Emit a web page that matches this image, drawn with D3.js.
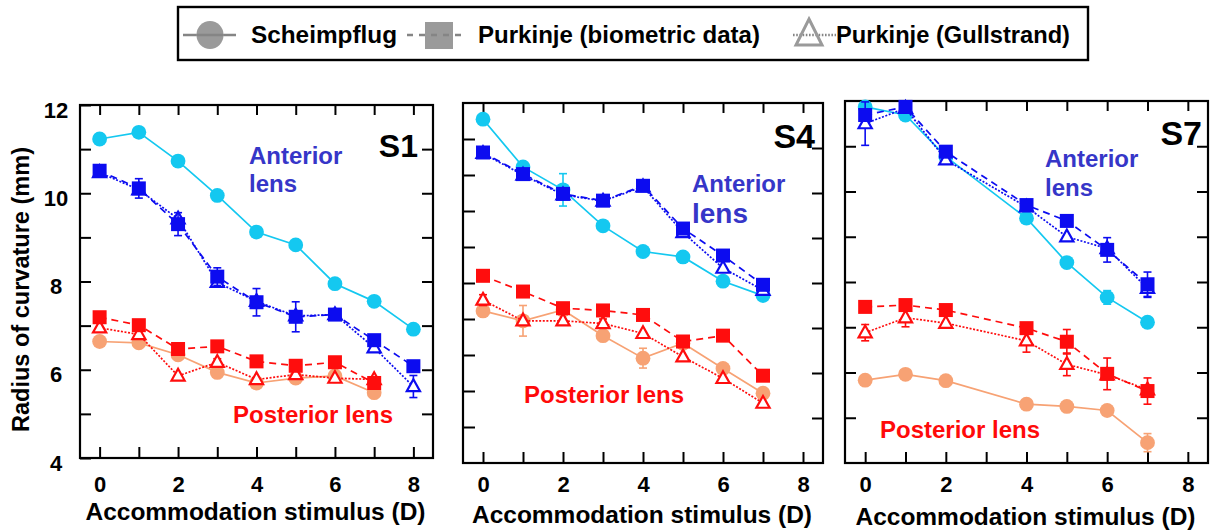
<!DOCTYPE html>
<html><head><meta charset="utf-8">
<script src="https://cdn.jsdelivr.net/npm/d3@7"></script>
<style>
html,body{margin:0;padding:0;background:#fff;}
svg{display:block;font-family:"Liberation Sans",Arial,Helvetica,sans-serif;font-weight:bold;}
</style></head><body>
<svg id="chart" width="1212" height="531"></svg>
<script>
// Accommodation stimulus levels (D) per subject
const stimS1 = [0, 1, 2, 3, 4, 5, 6, 7, 8];
const stimS4 = [0, 1, 2, 3, 4, 5, 6, 7];
const stimS7 = [0, 1, 2, 4, 5, 6, 7];

// Radius of curvature (mm), subject S1
const s1AntScheimpflug   = [11.23, 11.38, 10.73, 9.95, 9.12, 8.83, 7.95, 7.55, 6.92];
const s1AntPurkinje      = [10.51, 10.11, 9.30, 8.11, 7.53, 7.20, 7.25, 6.67, 6.08];
const s1AntPurkinjeErr   = [0, 0.22, 0.26, 0.20, 0.31, 0.34, 0, 0, 0];
const s1AntGullstrand    = [10.47, 10.08, 9.42, 7.98, 7.55, 7.22, 7.25, 6.50, 5.62];
const s1AntGullstrandErr = [0, 0, 0, 0, 0, 0, 0, 0, 0.25];
const s1PostScheimpflug  = [6.64, 6.61, 6.34, 5.94, 5.70, 5.81, 5.86, 5.48];
const s1PostPurkinje     = [7.19, 7.01, 6.47, 6.53, 6.19, 6.09, 6.17, 5.70];
const s1PostPurkinjeErr  = [0.10, 0, 0.08, 0.08, 0, 0.12, 0, 0];
const s1PostGullstrand   = [6.95, 6.80, 5.86, 6.17, 5.78, 5.89, 5.81, 5.78];
const s1PostGullstrandErr= [0, 0.10, 0, 0.08, 0, 0, 0, 0];

// Radius of curvature (mm), subject S4
const s4AntScheimpflug    = [11.64, 10.58, 10.07, 9.27, 8.70, 8.58, 8.04, 7.72];
const s4AntScheimpflugErr = [0, 0, 0.36, 0, 0, 0, 0, 0];
const s4AntPurkinje       = [10.90, 10.42, 9.98, 9.83, 10.16, 9.21, 8.61, 7.96];
const s4AntGullstrand     = [10.88, 10.40, 9.96, 9.82, 10.14, 9.12, 8.33, 7.84];
const s4PostScheimpflug   = [7.38, 7.16, 7.40, 6.83, 6.33, 6.66, 6.10, 5.55];
const s4PostScheimpflugErr= [0, 0.34, 0, 0, 0.22, 0, 0, 0];
const s4PostPurkinje      = [8.16, 7.81, 7.44, 7.39, 7.29, 6.70, 6.83, 5.94];
const s4PostPurkinjeErr   = [0.12, 0, 0, 0, 0, 0, 0, 0];
const s4PostGullstrand    = [7.62, 7.16, 7.16, 7.10, 6.88, 6.36, 5.88, 5.33];
const s4PostGullstrandErr = [0.12, 0, 0, 0.10, 0, 0, 0, 0];

// Radius of curvature (mm), subject S7
const s7AntScheimpflug    = [11.87, 11.69, 10.77, 9.41, 8.43, 7.66, 7.11];
const s7AntScheimpflugErr = [0, 0, 0, 0, 0, 0.15, 0];
const s7AntPurkinje       = [11.69, 11.87, 10.88, 9.70, 9.35, 8.71, 7.95];
const s7AntPurkinjeErr    = [0, 0, 0, 0, 0, 0.27, 0.27];
const s7AntGullstrand     = [11.50, 11.84, 10.70, 9.66, 9.00, 8.74, 7.86];
const s7AntGullstrandErr  = [0.48, 0, 0, 0, 0, 0, 0.2];
const s7PostScheimpflug   = [5.83, 5.96, 5.82, 5.30, 5.25, 5.16, 4.45];
const s7PostScheimpflugErr= [0, 0, 0, 0, 0, 0, 0.2];
const s7PostPurkinje      = [7.45, 7.49, 7.38, 6.98, 6.68, 5.97, 5.59];
const s7PostPurkinjeErr   = [0, 0, 0, 0, 0.27, 0.35, 0.29];
const s7PostGullstrand    = [6.88, 7.21, 7.09, 6.70, 6.18, 5.95, 5.62];
const s7PostGullstrandErr = [0.18, 0.2, 0, 0.25, 0.25, 0, 0];

// Axis ranges and labels
const xDomain = [-0.5, 8.5];
const xTicks = [0, 1, 2, 3, 4, 5, 6, 7, 8];
const xLabelTicks = [0, 2, 4, 6, 8];
const yDomain = [4, 12];
const yLabelTicks = [4, 6, 8, 10, 12];
const yMinorTicks = [5, 6, 7, 8, 9, 10, 11];
const legendLabels = ["Scheimpflug", "Purkinje (biometric data)", "Purkinje (Gullstrand)"];
const subjects = ["S1", "S4", "S7"];
const xTitle = "Accommodation stimulus (D)";
const yTitle = "Radius of curvature (mm)";

const colors = {
  antS: "#14c8f0", antP: "#0c0cf0", postS: "#f7a274", postP: "#ff0d0d",
  antText: "#3636c8", postText: "#ff0a0a", legend: "#9a9a9a", legendLine: "#858585"
};

const svg = d3.select("#chart");

function pts(stim, vals, errs) {
  return vals.map((v, i) => ({ x: stim[i], y: v, e: errs ? errs[i] : 0 }));
}

const triPath = "M0,-7.2L6.6,4.6L-6.6,4.6Z";

function drawSeries(g, x, y, data, kind, color) {
  const line = d3.line().x(d => x(d.x)).y(d => y(d.y));
  g.append("path").attr("d", line(data))
    .attr("fill", "none").attr("stroke", color).attr("stroke-width", 1.7)
    .attr("stroke-dasharray", kind === "sq" ? "7,5" : kind === "tri" ? "2,1.6" : null);
  const errs = data.filter(d => d.e > 0);
  const eg = g.append("g").attr("stroke", color).attr("stroke-width", 1.6);
  errs.forEach(d => {
    const cx = x(d.x), y1 = y(d.y - d.e), y2 = y(d.y + d.e);
    eg.append("line").attr("x1", cx).attr("x2", cx).attr("y1", y1).attr("y2", y2);
    eg.append("line").attr("x1", cx - 4).attr("x2", cx + 4).attr("y1", y1).attr("y2", y1);
    eg.append("line").attr("x1", cx - 4).attr("x2", cx + 4).attr("y1", y2).attr("y2", y2);
  });
  if (kind === "circ") {
    g.selectAll(null).data(data).enter().append("circle")
      .attr("cx", d => x(d.x)).attr("cy", d => y(d.y)).attr("r", 7.4).attr("fill", color);
  } else if (kind === "sq") {
    g.selectAll(null).data(data).enter().append("rect")
      .attr("x", d => x(d.x) - 7).attr("y", d => y(d.y) - 7)
      .attr("width", 14).attr("height", 14).attr("fill", color);
  } else {
    g.selectAll(null).data(data).enter().append("path")
      .attr("d", triPath).attr("transform", d => `translate(${x(d.x)},${y(d.y)})`)
      .attr("fill", "#fff").attr("stroke", color).attr("stroke-width", 2.2);
  }
}

const panels = [
  {
    name: subjects[0], frame: [80, 105, 433, 458], labels: true,
    anterior: [pts(stimS1, s1AntScheimpflug), pts(stimS1, s1AntPurkinje, s1AntPurkinjeErr), pts(stimS1, s1AntGullstrand, s1AntGullstrandErr)],
    posterior: [pts(stimS1, s1PostScheimpflug), pts(stimS1, s1PostPurkinje, s1PostPurkinjeErr), pts(stimS1, s1PostGullstrand, s1PostGullstrandErr)],
    tag: { x: 418, y: 157, size: 32 },
    ant: { x: 249, y1: 164, y2: 192, s1: 24, s2: 24 },
    post: { x: 233, y: 423 },
    xLabelPad: 18, xTitleY: 520, leftAlt: null
  },
  {
    name: subjects[1], frame: [463, 103, 823, 463], labels: false,
    anterior: [pts(stimS4, s4AntScheimpflug, s4AntScheimpflugErr), pts(stimS4, s4AntPurkinje), pts(stimS4, s4AntGullstrand)],
    posterior: [pts(stimS4, s4PostScheimpflug, s4PostScheimpflugErr), pts(stimS4, s4PostPurkinje, s4PostPurkinjeErr), pts(stimS4, s4PostGullstrand, s4PostGullstrandErr)],
    tag: { x: 815, y: 148, size: 34 },
    ant: { x: 692, y1: 192, y2: 223, s1: 24, s2: 28 },
    post: { x: 524, y: 403 },
    xLabelPad: 13, xTitleY: 523, leftAlt: [0, 10]
  },
  {
    name: subjects[2], frame: [845, 101, 1208, 463], labels: false,
    anterior: [pts(stimS7, s7AntScheimpflug, s7AntScheimpflugErr), pts(stimS7, s7AntPurkinje, s7AntPurkinjeErr), pts(stimS7, s7AntGullstrand, s7AntGullstrandErr)],
    posterior: [pts(stimS7, s7PostScheimpflug, s7PostScheimpflugErr), pts(stimS7, s7PostPurkinje, s7PostPurkinjeErr), pts(stimS7, s7PostGullstrand, s7PostGullstrandErr)],
    tag: { x: 1202, y: 145, size: 34 },
    ant: { x: 1045, y1: 167, y2: 196, s1: 24, s2: 24 },
    post: { x: 880, y: 438 },
    xLabelPad: 13, xTitleY: 525, leftAlt: null
  }
];

function styleAxis(sel) {
  sel.select(".domain").remove();
  sel.selectAll(".tick line").attr("stroke", "#000").attr("stroke-width", 2);
  sel.selectAll("text").attr("fill", "#000").style("font-size", "22px").style("font-weight", "bold")
    .style("font-family", '"Liberation Sans",Arial,sans-serif');
}

panels.forEach(p => {
  const [L, T, R, B] = p.frame;
  const x = d3.scaleLinear().domain(xDomain).range([L, R]);
  const y = d3.scaleLinear().domain(yDomain).range([B, T]);
  const g = svg.append("g");

  // Bottom axis with labels, ticks pointing into the plot
  const bx = g.append("g").attr("transform", `translate(0,${B})`)
    .call(d3.axisBottom(x).tickValues(xTicks).tickSize(-11).tickPadding(p.xLabelPad)
      .tickFormat(d => xLabelTicks.includes(d) ? d : ""));
  styleAxis(bx);
  // Top axis ticks
  const tx = g.append("g").attr("transform", `translate(0,${T})`)
    .call(d3.axisTop(x).tickValues(xTicks).tickSize(-10).tickFormat(""));
  styleAxis(tx);

  // Left axis
  if (p.labels) {
    const ly = g.append("g").attr("transform", `translate(${L},0)`)
      .call(d3.axisLeft(y).tickValues(yMinorTicks.concat([4, 12])).tickSize(-11).tickPadding(24)
        .tickFormat(d => yLabelTicks.includes(d) ? d : ""));
    styleAxis(ly);
    ly.selectAll("text").attr("text-anchor", "middle").attr("y", 5);
  } else if (p.leftAlt) {
    const yAlt = d3.scaleLinear().domain(p.leftAlt).range([B, T]);
    const ly = g.append("g").attr("transform", `translate(${L},0)`)
      .call(d3.axisLeft(yAlt).tickValues(d3.range(p.leftAlt[0] + 1, p.leftAlt[1])).tickSize(-12).tickFormat(""));
    styleAxis(ly);
  } else {
    const ly = g.append("g").attr("transform", `translate(${L},0)`)
      .call(d3.axisLeft(y).tickValues(yMinorTicks).tickSize(-11).tickFormat(""));
    styleAxis(ly);
  }
  // Right axis ticks
  const ry = g.append("g").attr("transform", `translate(${R},0)`)
    .call(d3.axisRight(y).tickValues(yMinorTicks).tickSize(-11).tickFormat(""));
  styleAxis(ry);

  // Frame
  g.append("rect").attr("x", L).attr("y", T).attr("width", R - L).attr("height", B - T)
    .attr("fill", "none").attr("stroke", "#000").attr("stroke-width", 2.2);

  // Series: Scheimpflug, then Purkinje (Gullstrand), with Purkinje (biometric) squares on top
  const dg = g.append("g");
  drawSeries(dg, x, y, p.posterior[0], "circ", colors.postS);
  drawSeries(dg, x, y, p.anterior[0], "circ", colors.antS);
  drawSeries(dg, x, y, p.posterior[2], "tri", colors.postP);
  drawSeries(dg, x, y, p.anterior[2], "tri", colors.antP);
  drawSeries(dg, x, y, p.posterior[1], "sq", colors.postP);
  drawSeries(dg, x, y, p.anterior[1], "sq", colors.antP);

  // Annotations
  g.append("text").attr("x", p.tag.x).attr("y", p.tag.y).attr("text-anchor", "end")
    .style("font-size", p.tag.size + "px").attr("fill", "#000").text(p.name);
  g.append("text").attr("x", p.ant.x).attr("y", p.ant.y1).style("font-size", p.ant.s1 + "px")
    .attr("fill", colors.antText).text("Anterior");
  g.append("text").attr("x", p.ant.x).attr("y", p.ant.y2).style("font-size", p.ant.s2 + "px")
    .attr("fill", colors.antText).text("lens");
  g.append("text").attr("x", p.post.x).attr("y", p.post.y).style("font-size", "24px")
    .attr("fill", colors.postText).text("Posterior lens");

  // X axis title
  g.append("text").attr("x", (L + R) / 2 - 1).attr("y", p.xTitleY).attr("text-anchor", "middle")
    .style("font-size", "23px").attr("textLength", 340).attr("lengthAdjust", "spacingAndGlyphs")
    .attr("fill", "#000").text(xTitle);
});

// Y axis title
svg.append("text").attr("transform", "translate(29,289.5) rotate(-90)").attr("text-anchor", "middle")
  .style("font-size", "23px").attr("textLength", 285).attr("lengthAdjust", "spacingAndGlyphs")
  .attr("fill", "#000").text(yTitle);

// Legend
const lg = svg.append("g");
lg.append("rect").attr("x", 178).attr("y", 7).attr("width", 910).attr("height", 53)
  .attr("fill", "#fff").attr("stroke", "#000").attr("stroke-width", 2.4);
const ly0 = 35;
// Scheimpflug key
lg.append("line").attr("x1", 183).attr("x2", 236).attr("y1", ly0).attr("y2", ly0)
  .attr("stroke", colors.legendLine).attr("stroke-width", 2.6);
lg.append("ellipse").attr("cx", 210).attr("cy", ly0).attr("rx", 13.5).attr("ry", 14).attr("fill", colors.legend);
lg.append("line").attr("x1", 197).attr("x2", 223).attr("y1", ly0).attr("y2", ly0)
  .attr("stroke", colors.legendLine).attr("stroke-width", 2.6);
// Purkinje (biometric) key
lg.append("rect").attr("x", 425).attr("y", 22).attr("width", 28).attr("height", 27).attr("fill", colors.legend);
lg.append("line").attr("x1", 407).attr("x2", 466).attr("y1", ly0).attr("y2", ly0)
  .attr("stroke", colors.legendLine).attr("stroke-width", 2.6).attr("stroke-dasharray", "6,6");
// Purkinje (Gullstrand) key
lg.append("line").attr("x1", 793).attr("x2", 836).attr("y1", ly0).attr("y2", ly0)
  .attr("stroke", colors.legendLine).attr("stroke-width", 2.4).attr("stroke-dasharray", "1.6,1.6");
lg.append("path").attr("d", "M809,19L822,45L796,45Z").attr("fill", "none")
  .attr("stroke", colors.legend).attr("stroke-width", 3);
const legendText = [
  { x: 251, w: 146 }, { x: 478, w: 282 }, { x: 836, w: 234 }
];
legendLabels.forEach((t, i) => {
  lg.append("text").attr("x", legendText[i].x).attr("y", 43).style("font-size", "24px")
    .attr("textLength", legendText[i].w).attr("lengthAdjust", "spacingAndGlyphs")
    .attr("fill", "#000").text(t);
});
</script>
</body></html>
